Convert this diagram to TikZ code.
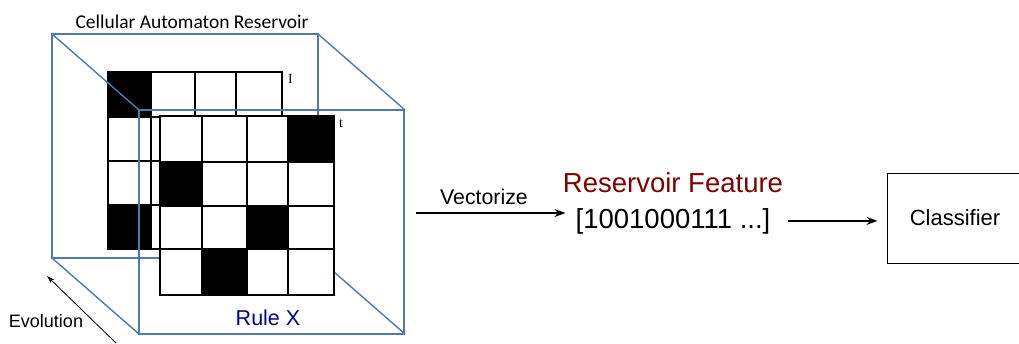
\documentclass[tikz,border=0pt]{standalone}
\usepackage{fontspec}
\setmainfont{Liberation Sans}
\newfontfamily\calfont{Carlito}
\newfontfamily\timesfont{Liberation Serif}
\usetikzlibrary{arrows.meta}
\definecolor{cubeblue}{RGB}{79,121,176}
\definecolor{featred}{RGB}{128,0,0}
\definecolor{rulenavy}{RGB}{0,0,140}
\tikzset{
    cubeline/.style={draw=cubeblue, line width=1.4pt},
    gridline/.style={draw=black, line width=1.8pt},
    txt/.style={inner sep=0pt, anchor=base},
    bigarrow/.style={-{Stealth[length=11pt,width=8pt]}, line width=1.6pt},
}

\begin{document}
\begin{tikzpicture}[x=1pt,y=-1pt]
    \useasboundingbox (0,0) rectangle (1019,343);

    % back grid
    \fill (108,72) rectangle (151,117);
    \fill (108,205) rectangle (151,249);
    \draw[gridline] (108,72) rectangle (282,249);
    \foreach \x in {151,195,236} \draw[gridline] (\x,72) -- (\x,249);
    \foreach \y in {117,161,205} \draw[gridline] (108,\y) -- (282,\y);

    % cube
    \draw[cubeline] (52,34) rectangle (318,258);
    \draw[cubeline] (139,110) rectangle (404,334);
    \foreach \a/\b in {52/34, 318/34, 52/258, 318/258}
        \draw[cubeline] (\a,\b) -- ++(87,76);

    % front grid
    \fill[white] (160,116) rectangle (334,295);
    \foreach \a/\b/\c/\d in {288/116/334/162, 160/162/202/206, 247/206/288/249, 202/249/247/295}
        \fill (\a,\b) rectangle (\c,\d);
    \draw[gridline] (160,116) rectangle (334,295);
    \foreach \x in {202,247,288} \draw[gridline] (\x,116) -- (\x,295);
    \foreach \y in {162,206,249} \draw[gridline] (160,\y) -- (334,\y);

    % place nodes
    \node[txt, font=\calfont\fontsize{19.5}{22}\selectfont] at (192,28) (title) {Cellular Automaton Reservoir};
    \node[txt, anchor=base west, font=\timesfont\fontsize{14}{16}\selectfont] at (288,83) (lblI) {I};
    \node[txt, anchor=base west, font=\timesfont\fontsize{14}{16}\selectfont] at (339,127) (lblt) {t};
    \node[txt, text=rulenavy, font=\fontsize{21.5}{24}\selectfont] at (268,325) (rule) {Rule X};
    \node[txt, font=\fontsize{18}{20}\selectfont] at (46,327) (evo) {Evolution};
    \node[txt, font=\fontsize{21.3}{24}\selectfont] at (484,204) (vecl) {Vectorize};
    \node[txt, text=featred, font=\fontsize{27.5}{30}\selectfont] at (673,192) (feat) {Reservoir Feature};
    \node[txt, font=\fontsize{27.5}{30}\selectfont] at (673,228) (vec) {[1001000111 ...]};
    \node[draw, line width=1pt, minimum width=136pt, minimum height=90pt,
          font=\fontsize{22}{24}\selectfont] at (955,218) (cls) {Classifier};

    \coordinate (vecin) at (416,213);
    \coordinate (evotail) at (116,343);
    \coordinate (evohead) at (47,276);

    % draw edges
    \draw[bigarrow, shorten >=10pt] (vecin) -- (vecin -| vec.west);
    \draw[bigarrow, shorten <=17pt, shorten >=9pt] (vec.east) -- (vec.east -| cls.west);
    \draw[-{Stealth[length=8pt,width=5pt]}, line width=0.8pt] (evotail) -- (evohead);
\end{tikzpicture}
\end{document}
